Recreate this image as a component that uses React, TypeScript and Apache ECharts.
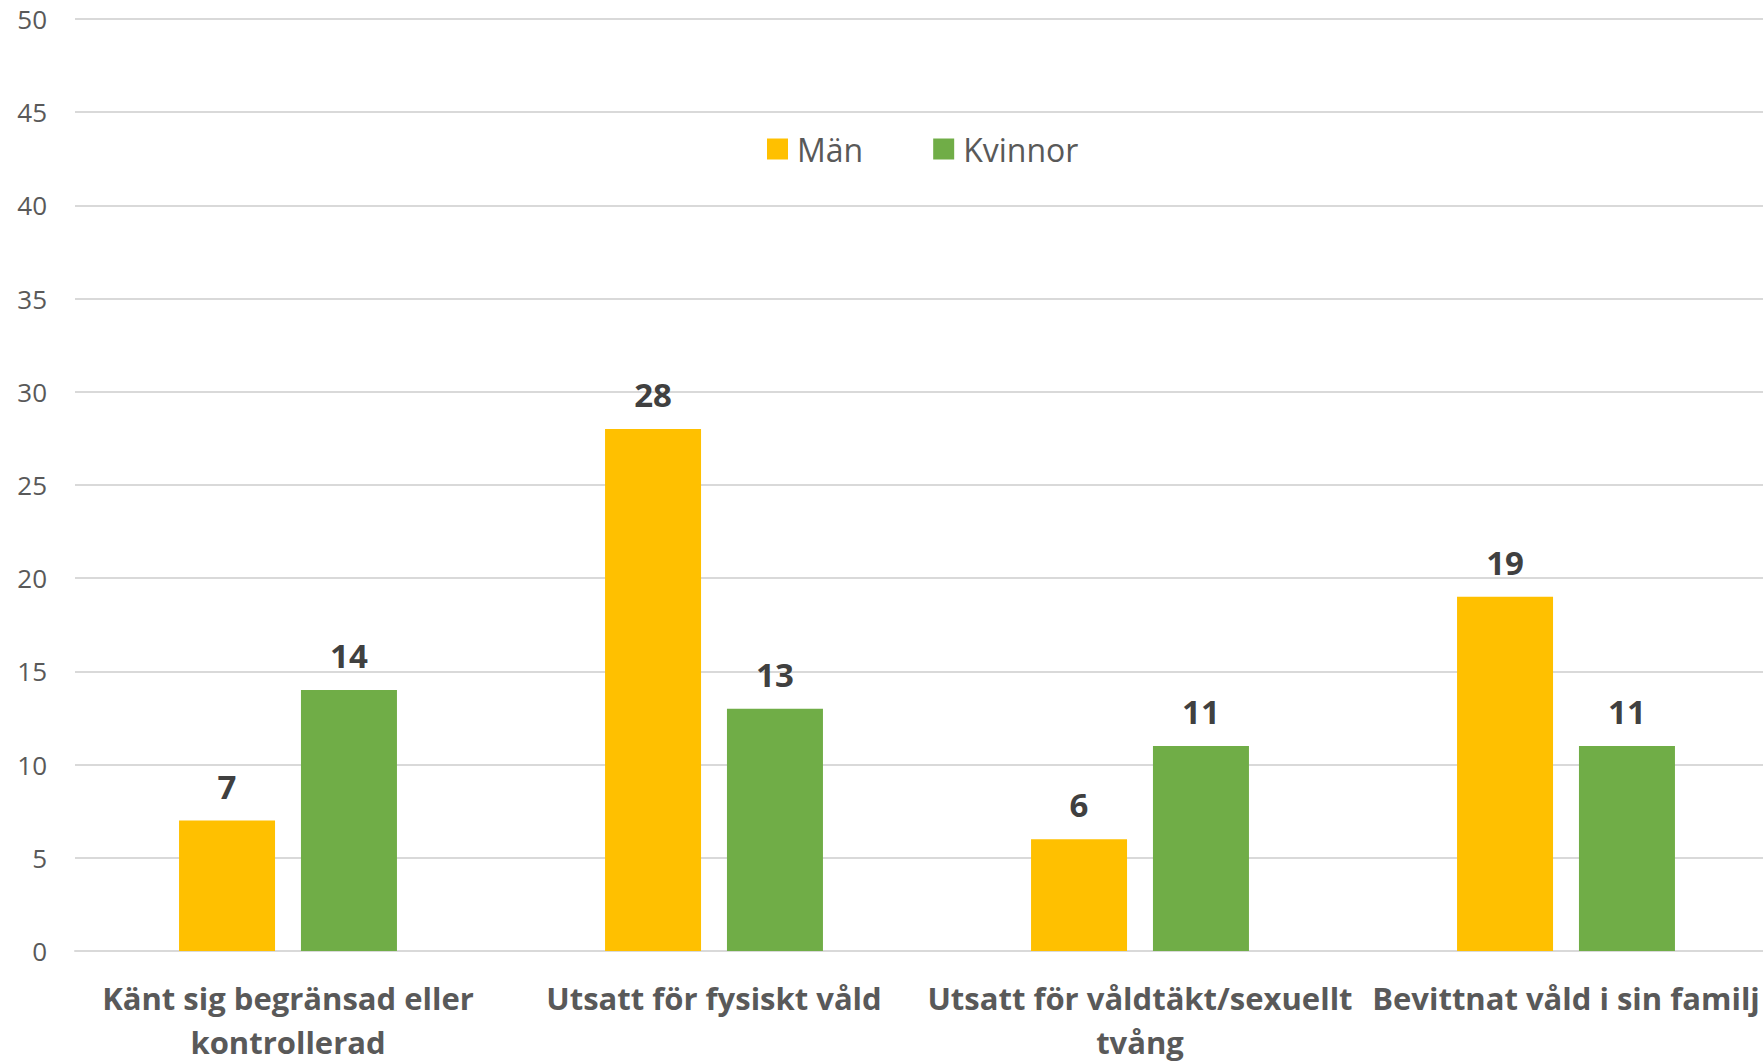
import React, { useEffect, useRef } from "react";
import * as echarts from "echarts";

const categories = [
  "Känt sig begränsad eller\nkontrollerad",
  "Utsatt för fysiskt våld",
  "Utsatt för våldtäkt/sexuellt\ntvång",
  "Bevittnat våld i sin familj",
];
const manValues = [7, 28, 6, 19];
const kvinnorValues = [14, 13, 11, 11];
const seriesNames = ["Män", "Kvinnor"];

const FONT = "'Open Sans', 'Noto Sans', sans-serif";

export default function App() {
  const ref = useRef<HTMLDivElement>(null);
  useEffect(() => {
    if (!ref.current) return;
    const chart = echarts.init(ref.current, undefined, { renderer: "svg" });
    const labelStyle = {
      show: true,
      position: "top" as const,
      distance: 18,
      fontFamily: FONT,
      fontSize: 33,
      fontWeight: "bold" as const,
      color: "#404040",
    };
    chart.setOption({
      animation: false,
      backgroundColor: "#ffffff",
      textStyle: { fontFamily: FONT },
      grid: {
        left: 75,
        width: 1704,
        top: 19,
        bottom: 111,
        containLabel: false,
        outerBoundsMode: "none",
      },
      legend: {
        data: seriesNames,
        left: 762,
        top: 128,
        itemWidth: 21,
        itemHeight: 21,
        itemGap: 70,
        icon: "rect",
        textStyle: { fontFamily: FONT, fontSize: 32, color: "#595959", padding: [0, 0, 0, 4] },
      },
      xAxis: {
        type: "category",
        data: categories,
        axisLine: { show: true, lineStyle: { color: "#d9d9d9", width: 2 } },
        axisTick: { show: false },
        axisLabel: {
          interval: 0,
          margin: 25,
          fontFamily: FONT,
          fontSize: 31,
          fontWeight: "bold",
          color: "#595959",
          lineHeight: 44,
        },
      },
      yAxis: {
        type: "value",
        min: 0,
        max: 50,
        interval: 5,
        axisLine: { show: false },
        axisTick: { show: false },
        splitLine: { lineStyle: { color: "#d9d9d9", width: 2 } },
        axisLabel: {
          margin: 28,
          fontFamily: FONT,
          fontSize: 26,
          color: "#595959",
        },
      },
      series: [
        {
          name: seriesNames[0],
          type: "bar",
          data: manValues,
          barWidth: 96,
          barGap: "27%",
          itemStyle: { color: "#FFC000" },
          label: labelStyle,
        },
        {
          name: seriesNames[1],
          type: "bar",
          data: kvinnorValues,
          barWidth: 96,
          barGap: "27%",
          itemStyle: { color: "#70AD47" },
          label: labelStyle,
        },
      ],
    });
    return () => chart.dispose();
  }, []);
  return (
    <div
      ref={ref}
      style={{ position: "fixed", left: 0, top: 0, width: 1763, height: 1062, background: "#fff" }}
    />
  );
}
